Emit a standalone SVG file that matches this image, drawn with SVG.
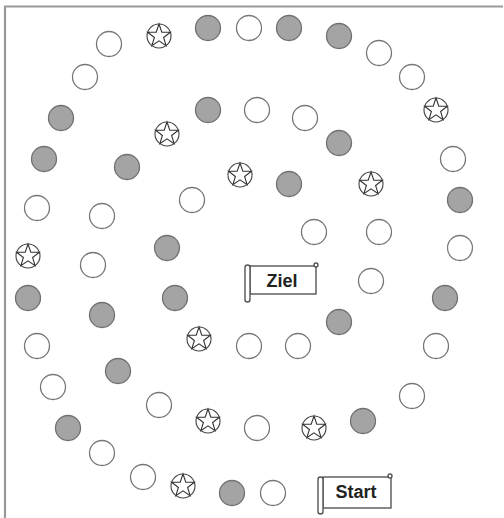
<svg xmlns="http://www.w3.org/2000/svg" xmlns:xlink="http://www.w3.org/1999/xlink" width="504" height="518" viewBox="0 0 504 518">
<style>
.w{fill:#fff;stroke:#777;stroke-width:1.3}
.g{fill:#a4a4a4;stroke:#707070;stroke-width:1.3}
.s{fill:#fff;stroke:#444;stroke-width:1.1}
.sp{fill:#fff;stroke:#333;stroke-width:1.1;stroke-linejoin:miter}
.frame{stroke:#999;stroke-width:2.2;fill:none}
.scroll{fill:#fff;stroke:#555;stroke-width:1.4}
.lbl{font-family:"Liberation Sans",Arial,sans-serif;font-weight:bold;font-size:18px;fill:#222;text-anchor:middle}
</style>
<defs>
<g id="star">
<circle r="12" class="s"/>
<polygon class="sp" points="0,-12 2.8,-3.9 11.4,-3.7 4.6,1.5 7.1,9.7 0,4.8 -7.1,9.7 -4.6,1.5 -11.4,-3.7 -2.8,-3.9"/>
</g>
</defs>
<rect width="504" height="518" fill="#fff"/>
<path class="frame" d="M5,518 V6.5 H503"/>
<g id="board">
<g id="o1"><circle cx="109" cy="44" r="12.5" class="w"/></g>
<g id="o2"><use href="#star" x="159" y="36"/></g>
<g id="o3"><circle cx="208" cy="28" r="12.5" class="g"/></g>
<g id="o4"><circle cx="249" cy="28" r="12.5" class="w"/></g>
<g id="o5"><circle cx="289" cy="28" r="12.5" class="g"/></g>
<g id="o6"><circle cx="339" cy="36" r="12.5" class="g"/></g>
<g id="o7"><circle cx="379" cy="53" r="12.5" class="w"/></g>
<g id="o8"><circle cx="412" cy="77" r="12.5" class="w"/></g>
<g id="o9"><use href="#star" x="436" y="110"/></g>
<g id="o10"><circle cx="453" cy="159" r="12.5" class="w"/></g>
<g id="o11"><circle cx="460" cy="200" r="12.5" class="g"/></g>
<g id="o12"><circle cx="460" cy="248" r="12.5" class="w"/></g>
<g id="o13"><circle cx="445" cy="298" r="12.5" class="g"/></g>
<g id="o14"><circle cx="436" cy="346" r="12.5" class="w"/></g>
<g id="o15"><circle cx="412" cy="396" r="12.5" class="w"/></g>
<g id="o16"><circle cx="363" cy="421" r="12.5" class="g"/></g>
<g id="o17"><use href="#star" x="314" y="428"/></g>
<g id="o18"><circle cx="257" cy="428" r="12.5" class="w"/></g>
<g id="o19"><use href="#star" x="208" y="421"/></g>
<g id="o20"><circle cx="159" cy="405" r="12.5" class="w"/></g>
<g id="o21"><circle cx="118" cy="371" r="12.5" class="g"/></g>
<g id="o22"><circle cx="102" cy="315" r="12.5" class="g"/></g>
<g id="o23"><circle cx="93" cy="265" r="12.5" class="w"/></g>
<g id="o24"><circle cx="102" cy="216" r="12.5" class="w"/></g>
<g id="o25"><circle cx="127" cy="167" r="12.5" class="g"/></g>
<g id="o26"><use href="#star" x="167" y="134"/></g>
<g id="o27"><circle cx="208" cy="110" r="12.5" class="g"/></g>
<g id="o28"><circle cx="257" cy="110" r="12.5" class="w"/></g>
<g id="o29"><circle cx="305" cy="118" r="12.5" class="w"/></g>
<g id="o30"><circle cx="339" cy="143" r="12.5" class="g"/></g>
<g id="o31"><use href="#star" x="371" y="184"/></g>
<g id="o32"><circle cx="379" cy="232" r="12.5" class="w"/></g>
<g id="o33"><circle cx="371" cy="281" r="12.5" class="w"/></g>
<g id="o34"><circle cx="339" cy="322" r="12.5" class="g"/></g>
<g id="o35"><circle cx="298" cy="346" r="12.5" class="w"/></g>
<g id="o36"><circle cx="249" cy="346" r="12.5" class="w"/></g>
<g id="o37"><use href="#star" x="199" y="339"/></g>
<g id="o38"><circle cx="175" cy="298" r="12.5" class="g"/></g>
<g id="o39"><circle cx="167" cy="248" r="12.5" class="g"/></g>
<g id="o40"><circle cx="192" cy="200" r="12.5" class="w"/></g>
<g id="o41"><use href="#star" x="240" y="175"/></g>
<g id="o42"><circle cx="289" cy="184" r="12.5" class="g"/></g>
<g id="o43"><circle cx="314" cy="232" r="12.5" class="w"/></g>
<g id="l1"><circle cx="85" cy="77" r="12.5" class="w"/></g>
<g id="l2"><circle cx="61" cy="118" r="12.5" class="g"/></g>
<g id="l3"><circle cx="44" cy="159" r="12.5" class="g"/></g>
<g id="l4"><circle cx="37" cy="208" r="12.5" class="w"/></g>
<g id="l5"><use href="#star" x="28" y="256"/></g>
<g id="l6"><circle cx="28" cy="298" r="12.5" class="g"/></g>
<g id="l7"><circle cx="37" cy="346" r="12.5" class="w"/></g>
<g id="l8"><circle cx="53" cy="387" r="12.5" class="w"/></g>
<g id="l9"><circle cx="68" cy="428" r="12.5" class="g"/></g>
<g id="l10"><circle cx="102" cy="453" r="12.5" class="w"/></g>
<g id="l11"><circle cx="143" cy="477" r="12.5" class="w"/></g>
<g id="l12"><use href="#star" x="183" y="486"/></g>
<g id="l13"><circle cx="232" cy="493" r="12.5" class="g"/></g>
<g id="l14"><circle cx="273" cy="493" r="12.5" class="w"/></g>
</g>
<g id="ziel">
<rect x="250" y="266" width="66" height="28" class="scroll"/>
<rect x="245" y="265" width="5" height="37" rx="2.5" class="scroll"/>
<circle cx="316" cy="265" r="2" class="scroll"/>
<text x="282" y="287" class="lbl">Ziel</text>
</g>
<g id="start">
<rect x="323" y="477" width="68" height="31" class="scroll"/>
<rect x="318" y="477" width="5" height="37" rx="2.5" class="scroll"/>
<circle cx="390" cy="476" r="2" class="scroll"/>
<text x="356" y="498" class="lbl">Start</text>
</g>
<g id="connectors"/>
</svg>
